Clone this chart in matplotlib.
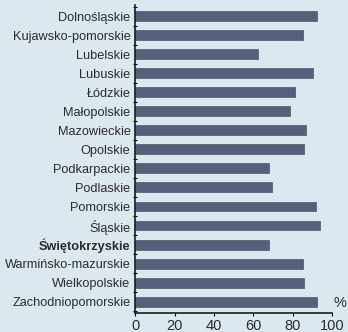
import matplotlib.pyplot as plt
import numpy as np
from matplotlib import font_manager

# województwa i odsetek (%)
regiony = ["Dolnośląskie", "Kujawsko-pomorskie", "Lubelskie", "Lubuskie", "Łódzkie",
           "Małopolskie", "Mazowieckie", "Opolskie", "Podkarpackie", "Podlaskie",
           "Pomorskie", "Śląskie", "Świętokrzyskie", "Warmińsko-mazurskie",
           "Wielkopolskie", "Zachodniopomorskie"]
wartosci = [92.2, 85.3, 62.3, 90.5, 81.2, 78.7, 87.0, 85.8, 68.2, 69.4,
            92.0, 94.1, 68.0, 85.3, 85.9, 92.5]
xticks = [0, 20, 40, 60, 80, 100]

names = {f.name for f in font_manager.fontManager.ttflist}
font = "Liberation Sans Narrow" if "Liberation Sans Narrow" in names else "Liberation Sans"
plt.rcParams['font.family'] = [font, 'DejaVu Sans']
lab_size = 10.8 if font == "Liberation Sans Narrow" else 9.2

bg = '#dce8ef'
fig = plt.figure(figsize=(3.48, 3.32), dpi=100, facecolor=bg)
ax = fig.add_axes([0.389, 0.058, 0.565, 0.927])
ax.set_facecolor('none')

y = np.arange(len(regiony))
ax.barh(y, wartosci, height=0.52, color='#55617a', edgecolor='#4a556b', linewidth=0.5)

ax.set_xlim(0, 100)
ax.set_ylim(len(regiony) - 0.42, -0.58)
ax.set_yticks(y)
ax.set_yticklabels(regiony, fontsize=lab_size, color='#2b2b2b')
ax.tick_params(axis='y', length=0, pad=3.5)
ax.set_yticks(np.arange(-0.5, len(regiony), 1), minor=True)
ax.tick_params(axis='y', which='minor', length=3, direction='inout', width=0.8)
ax.get_yticklabels()[12].set_fontweight('bold')

ax.set_xticks(xticks)
ax.set_xticklabels([str(v) for v in xticks], fontsize=10.5, color='#2b2b2b')
ax.tick_params(axis='x', length=2, direction='out', width=0.8, pad=2.5)

for s in ['top', 'right']:
    ax.spines[s].set_visible(False)
for s in ['left', 'bottom']:
    ax.spines[s].set_linewidth(1.2)
    ax.spines[s].set_color('#1a1a1a')

ax.text(1.01, 0.01, "%", transform=ax.transAxes, fontsize=10.5, color='#2b2b2b',
        ha='left', va='bottom')

fig.savefig("out.png", dpi=100, facecolor=bg)
